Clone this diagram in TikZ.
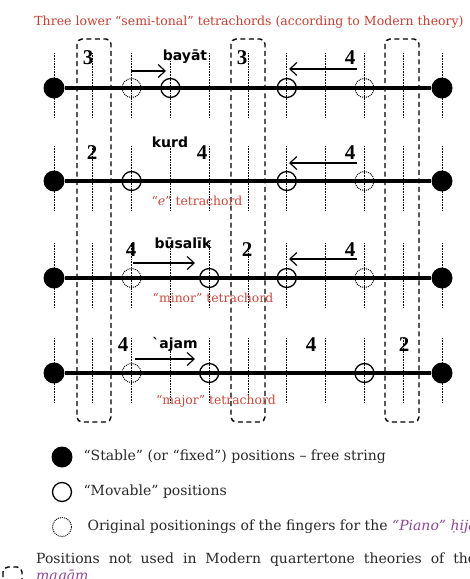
\documentclass[tikz,border=0pt]{standalone}
\usepackage{fontspec}
\setmainfont{DejaVu Serif}
\newfontfamily\numfont{Liberation Serif}
\newfontfamily\namefont{DejaVu Sans}
\usepackage{tikz}
\usetikzlibrary{arrows.meta}

\definecolor{titlered}{RGB}{196,62,50}
\definecolor{labelred}{RGB}{200,72,60}
\definecolor{hijazpurple}{RGB}{140,70,150}
\definecolor{legendgray}{RGB}{40,40,40}

\tikzset{
  fixedpos/.style={circle, fill=black, minimum size=21pt, inner sep=0pt},
  movpos/.style={circle, draw, line width=1.3pt, minimum size=19pt, inner sep=0pt},
  origpos/.style={circle, draw, line width=1pt, densely dotted, minimum size=19pt, inner sep=0pt},
  fret/.style={line width=0.8pt, dash pattern=on 0.8pt off 0.8pt},
  strng/.style={line width=3.6pt},
  nouse/.style={line width=1.4pt, dash pattern=on 5pt off 3.5pt, rounded corners=5pt},
  num/.style={font=\numfont\bfseries\fontsize{21}{21}\selectfont},
  tname/.style={font=\namefont\bfseries\fontsize{14}{14}\selectfont},
  tlabel/.style={text=labelred, font=\fontsize{12.4}{12.4}\selectfont},
  move/.style={-{Straight Barb[length=7pt,width=13pt,line width=1.2pt]}, line width=1.2pt},
  legend/.style={anchor=west, text=legendgray, font=\fontsize{14}{17}\selectfont},
}

\begin{document}
\begin{tikzpicture}[x=1pt, y=-1pt]
    \useasboundingbox (0,0) rectangle (470,579);
    \clip (0,0) rectangle (470,579);

    \node [text=titlered, font=\fontsize{12.5}{12.5}\selectfont] (title) at (249, 22)
      {Three lower “semi-tonal” tetrachords (according to Modern theory)};

    % positions not used (dashed boxes)
    \foreach \bx in {77, 231, 385} {
      \draw [nouse] (\bx, 39) rectangle ++(34, 383);
    }

    % strings with frets
    \foreach \r/\y in {1/88, 2/181, 3/278, 4/373} {
      \foreach \i in {0, 1, ..., 10} {
        \draw [fret] ({54 + 38.8 * \i}, {\y - 35}) -- ({54 + 38.8 * \i}, {\y + 30});
      }
      \node [fixedpos] (lo\r) at (54, \y) {};
      \node [fixedpos] (hi\r) at (442, \y) {};
      \draw [strng] (lo\r) -- (hi\r);
    }

    % bayat
    \node [num] (n11) at (88, 58) {3};
    \node [tname] (bayat) at (185, 57) {bayāt};
    \node [num] (n12) at (242, 58) {3};
    \node [num] (n13) at (350, 58) {4};
    \node [origpos] (o11) at (131.6, 88) {};
    \node [movpos] (m11) at (170.4, 88) {};
    \node [movpos] (m12) at (286.8, 88) {};
    \node [origpos] (o12) at (364.4, 88) {};
    \coordinate (a11) at (131, 71);
    \coordinate (b11) at (166, 71);
    \coordinate (a12) at (357, 69);
    \coordinate (b12) at (289, 69);
    \draw [move] (a11) -- (b11);
    \draw [move] (a12) -- (b12);

    % kurd
    \node [num] (n21) at (92, 153) {2};
    \node [tname] (kurd) at (170, 142) {kurd};
    \node [num] (n22) at (202, 153) {4};
    \node [num] (n23) at (350, 153) {4};
    \node [movpos] (m21) at (131.6, 181) {};
    \node [movpos] (m22) at (286.8, 181) {};
    \node [origpos] (o21) at (364.4, 181) {};
    \coordinate (a21) at (357, 163);
    \coordinate (b21) at (289, 163);
    \draw [move] (a21) -- (b21);
    \node [tlabel] (etetra) at (197, 201) {“\textit{e}” tetrachord};

    % busalik
    \node [num] (n31) at (131, 250) {4};
    \node [tname] (busalik) at (183, 243) {būsalīk};
    \node [num] (n32) at (247, 250) {2};
    \node [num] (n33) at (350, 250) {4};
    \node [origpos] (o31) at (131.6, 278) {};
    \node [movpos] (m31) at (209.2, 278) {};
    \node [movpos] (m32) at (286.8, 278) {};
    \node [origpos] (o32) at (364.4, 278) {};
    \coordinate (a31) at (133, 263);
    \coordinate (b31) at (195, 263);
    \coordinate (a32) at (357, 259);
    \coordinate (b32) at (289, 259);
    \draw [move] (a31) -- (b31);
    \draw [move] (a32) -- (b32);
    \node [tlabel] (mintetra) at (213, 298) {“minor” tetrachord};

    % ajam
    \node [num] (n41) at (123, 345) {4};
    \node [tname] (ajam) at (175, 344) {ˋajam};
    \node [num] (n42) at (311, 345) {4};
    \node [num] (n43) at (404, 345) {2};
    \node [origpos] (o41) at (131.6, 373) {};
    \node [movpos] (m41) at (209.2, 373) {};
    \node [movpos] (m42) at (364.4, 373) {};
    \coordinate (a41) at (135, 359);
    \coordinate (b41) at (195, 359);
    \draw [move] (a41) -- (b41);
    \node [tlabel] (majtetra) at (216, 401) {“major” tetrachord};

    % legend
    \node [fixedpos] (kfixed) at (62, 457) {};
    \node [legend] (tfixed) at (80, 457) {“Stable” (or “fixed”) positions – free string};
    \node [movpos] (kmov) at (62, 492) {};
    \node [legend] (tmov) at (80, 492) {“Movable” positions};
    \node [origpos] (korig) at (62, 527) {};
    \node [legend] (torig) at (84, 527)
      {Original positionings of the fingers for the \textcolor{hijazpurple}{\itshape “Piano” ḥijāz}};
    \draw [nouse] (3, 567) rectangle (22, 600);
    \node [legend, anchor=north west, text width=440pt, align=justify, inner sep=0pt] (tnouse) at (36, 553)
      {Positions not used in Modern quartertone theories of the\linebreak
       \textcolor{hijazpurple}{\itshape maqām}};
\end{tikzpicture}
\end{document}
